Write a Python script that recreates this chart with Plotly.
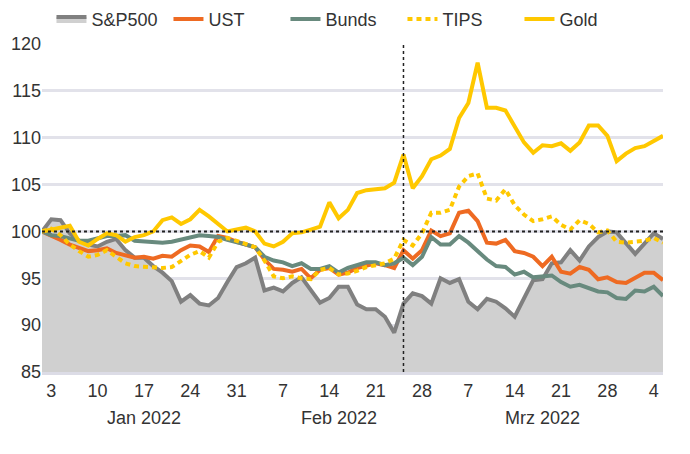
import pandas as pd
import plotly.graph_objects as go

# business days, indexed to 100 on 31 Dec 2021
dates = pd.bdate_range("2021-12-31", "2022-04-05")

sp500 = [100.0, 101.3, 101.2, 99.8, 99.0, 98.6, 98.4, 98.9, 99.2, 98.0,
         97.2, 97.2, 96.3, 95.6, 94.7, 92.5, 93.2, 92.3, 92.1, 92.9,
         94.6, 96.2, 96.6, 97.2, 93.7, 94.0, 93.6, 94.5, 95.1, 93.8,
         92.4, 92.9, 94.1, 94.1, 92.2, 91.7, 91.7, 90.9, 89.2, 92.3,
         93.4, 93.1, 92.3, 95.0, 94.5, 94.9, 92.5, 91.7, 92.8, 92.5,
         91.8, 90.9, 92.9, 94.8, 94.9, 96.6, 96.7, 98.0, 96.9, 98.4,
         99.4, 100.0, 99.9, 98.8, 97.6, 98.7, 99.8, 99.2]

ust = [100.0, 99.6, 99.1, 98.6, 98.2, 97.9, 98.0, 98.2, 97.7, 97.4,
       97.2, 97.3, 97.1, 97.4, 97.3, 98.0, 98.5, 98.4, 97.8, 99.5,
       99.3, 98.9, 98.6, 98.3, 97.0, 96.0, 95.9, 95.7, 96.0, 95.0,
       95.9, 96.1, 95.4, 95.6, 96.1, 96.4, 96.6, 96.4, 96.1, 98.0,
       97.1, 98.0, 100.1, 99.5, 99.8, 102.0, 102.2, 101.1, 98.8, 98.7,
       99.1, 97.9, 97.7, 97.3, 96.3, 97.3, 95.7, 95.5, 96.2, 95.9,
       94.9, 95.1, 94.6, 94.5, 95.1, 95.6, 95.6, 94.8]

bunds = [100.0, 99.6, 99.5, 99.2, 99.0, 99.0, 99.2, 99.5, 99.5, 99.6,
         99.0, 98.9, 98.9, 98.8, 98.9, 99.1, 99.4, 99.6, 99.5, 99.4,
         99.1, 98.9, 98.6, 98.3, 97.3, 96.9, 96.7, 96.3, 96.6, 96.0,
         96.0, 96.3, 95.6, 96.1, 96.4, 96.7, 96.7, 96.4, 96.6, 97.2,
         96.4, 97.3, 99.4, 98.6, 98.6, 99.5, 98.8, 97.9, 97.0, 96.3,
         96.2, 95.4, 95.7, 95.1, 95.2, 95.3, 94.6, 94.1, 94.3, 94.0,
         93.6, 93.5, 92.9, 92.8, 93.7, 93.6, 94.1, 93.1]

tips = [100.0, 100.3, 99.6, 98.6, 97.9, 97.3, 97.5, 98.0, 97.3, 96.6,
        96.3, 96.2, 96.2, 96.1, 96.2, 96.8, 97.5, 97.9, 97.2, 98.9,
        99.3, 99.0, 98.6, 98.3, 96.9, 95.2, 95.0, 95.2, 95.0, 94.9,
        95.9, 96.1, 95.4, 95.5, 95.8, 96.2, 96.4, 96.6, 97.1, 99.1,
        98.5, 99.8, 102.0, 102.0, 102.3, 104.8, 105.9, 106.2, 103.5, 103.3,
        104.5, 102.8, 101.8, 101.1, 101.3, 101.6, 100.7, 100.2, 101.2, 100.8,
        99.9, 100.1, 98.9, 98.8, 98.9, 99.0, 99.3, 98.8]

gold = [100.0, 100.2, 100.4, 100.6, 98.9, 98.5, 99.2, 99.8, 99.6, 98.9,
        99.4, 99.6, 100.0, 101.2, 101.5, 100.8, 101.3, 102.3, 101.6, 100.8,
        100.0, 100.2, 100.4, 100.0, 98.7, 98.4, 98.9, 99.8, 99.9, 100.2,
        100.5, 103.1, 101.4, 102.3, 104.1, 104.4, 104.5, 104.6, 105.2, 108.2,
        104.6, 105.9, 107.7, 108.1, 108.8, 112.1, 113.7, 118.0, 113.2, 113.2,
        112.9, 111.1, 109.5, 108.4, 109.2, 109.1, 109.4, 108.6, 109.5, 111.3,
        111.3, 110.2, 107.5, 108.3, 108.9, 109.1, 109.7, 110.2]

tick_dates = ["2022-01-03", "2022-01-10", "2022-01-17", "2022-01-24", "2022-01-31",
              "2022-02-07", "2022-02-14", "2022-02-21", "2022-02-28", "2022-03-07",
              "2022-03-14", "2022-03-21", "2022-03-28", "2022-04-04"]
tick_text = ["3", "10", "17", "24", "31", "7", "14", "21", "28", "7", "14", "21", "28", "4"]
month_labels = ["Jan 2022", "Feb 2022", "Mrz 2022"]
month_pos = ["2022-01-17", "2022-02-15", "2022-03-17"]
event_date = "2022-02-24"

FONT = "Liberation Sans, Arial, sans-serif"
TXT = "#333333"
YELLOW = "#FFC800"

fig = go.Figure()
fig.add_trace(go.Scatter(x=dates, y=sp500, name="S&P500", mode="lines",
                         fill="tozeroy", fillcolor="#D0D0D0",
                         line=dict(color="#808080", width=4)))
fig.add_trace(go.Scatter(x=dates, y=ust, name="UST", mode="lines",
                         line=dict(color="#EE6A22", width=4)))
fig.add_trace(go.Scatter(x=dates, y=bunds, name="Bunds", mode="lines",
                         line=dict(color="#688A7E", width=4)))
fig.add_trace(go.Scatter(x=dates, y=tips, name="TIPS", mode="lines",
                         line=dict(color=YELLOW, width=4, dash="5px,4px")))
fig.add_trace(go.Scatter(x=dates, y=gold, name="Gold", mode="lines",
                         line=dict(color=YELLOW, width=4)))

# reference lines
fig.add_shape(type="line", xref="paper", x0=0, x1=1, yref="y", y0=100, y1=100,
              line=dict(color="#222222", width=2, dash="dot"))
fig.add_shape(type="line", xref="x", x0=event_date, x1=event_date, yref="paper", y0=0, y1=1,
              line=dict(color="#222222", width=1.5, dash="dot"))

for lab, pos in zip(month_labels, month_pos):
    fig.add_annotation(x=pos, xref="x", y=-0.14, yref="paper", text=lab,
                       showarrow=False, yanchor="middle",
                       font=dict(family=FONT, size=18, color=TXT))

fig.update_layout(
    width=690, height=454,
    margin=dict(l=34, r=35, t=36, b=90, autoexpand=False),
    plot_bgcolor="white", paper_bgcolor="white",
    font=dict(family=FONT, size=18, color=TXT),
    showlegend=True,
    legend=dict(orientation="h", xref="container", x=0.063, xanchor="left",
                yref="container", y=0.975, yanchor="middle",
                entrywidth=72, entrywidthmode="pixels",
                font=dict(family=FONT, size=18, color=TXT),
                bgcolor="rgba(0,0,0,0)"),
)

fig.update_xaxes(
    type="date", automargin=False,
    range=[dates[0], dates[-1]],
    rangebreaks=[dict(bounds=["sat", "mon"])],
    tickmode="array", tickvals=tick_dates, ticktext=tick_text,
    showgrid=False, ticks="", showline=True, linecolor="#DCDCE6", linewidth=3,
    tickfont=dict(family=FONT, size=18, color=TXT),
)
fig.update_yaxes(
    automargin=False,
    range=[85, 120], dtick=5, tick0=85,
    showgrid=True, gridcolor="#E2E2EA", gridwidth=3,
    zeroline=False, ticks="",
    tickfont=dict(family=FONT, size=18, color=TXT),
)

fig.write_html("out.html")
